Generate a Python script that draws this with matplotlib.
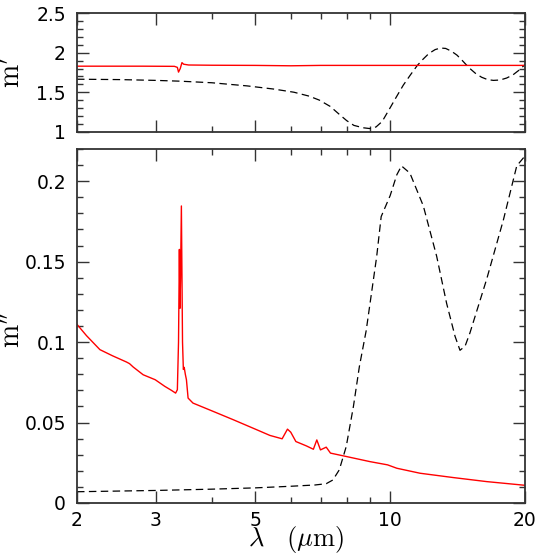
import matplotlib
matplotlib.use("Agg")
import matplotlib.pyplot as plt
from matplotlib.ticker import FixedLocator, NullFormatter, MultipleLocator

plt.rcParams['mathtext.fontset'] = 'cm'
plt.rcParams['font.family'] = 'DejaVu Sans'

# real part m' (top panel)
red_top_x = [2.0, 2.8, 3.3, 3.35, 3.37, 3.40, 3.43, 3.46, 3.55, 4.0, 5.0, 6.0, 7.0, 8.0, 10.0, 14.0, 20.0]
red_top_y = [1.830, 1.830, 1.828, 1.815, 1.755, 1.800, 1.875, 1.855, 1.845, 1.842, 1.840, 1.835, 1.840, 1.840, 1.840, 1.840, 1.840]

blk_top_x = [2.0, 2.5, 3.0, 3.4, 4.0, 4.8, 5.5, 6.1, 6.6, 6.95, 7.35, 7.7, 8.0, 8.3, 8.7, 9.0,
             9.3, 9.6, 9.97, 10.3, 10.7, 11.1, 11.5, 11.85, 12.2, 12.6, 12.95, 13.3, 13.7,
             14.1, 14.5, 15.0, 15.5, 16.0, 16.5, 17.0, 17.6, 18.2, 18.8, 19.4, 20.0]
blk_top_y = [1.665, 1.66, 1.65, 1.64, 1.62, 1.58, 1.54, 1.50, 1.45, 1.40, 1.32, 1.22, 1.14, 1.08, 1.05, 1.04,
             1.06, 1.13, 1.29, 1.43, 1.59, 1.72, 1.84, 1.92, 1.99, 2.04, 2.06, 2.055, 2.02,
             1.97, 1.90, 1.81, 1.74, 1.69, 1.66, 1.65, 1.655, 1.68, 1.72, 1.78, 1.85]

# imaginary part m'' (bottom panel)
red_bot_x = [2.0, 2.1, 2.25, 2.4, 2.58, 2.62, 2.67, 2.81, 2.99, 3.14, 3.25, 3.32, 3.35, 3.37,
             3.385, 3.395, 3.405, 3.42, 3.44, 3.455, 3.47, 3.49, 3.51, 3.54, 3.63, 4.03, 4.47,
             5.04, 5.39, 5.74, 5.90, 6.0, 6.16, 6.5, 6.74, 6.86, 6.99, 7.2, 7.36, 7.86, 9.02,
             9.87, 10.35, 11.66, 13.84, 16.42, 20.0]
red_bot_y = [0.1110, 0.1040, 0.0953, 0.0915, 0.0876, 0.0866, 0.0845, 0.0797, 0.0766, 0.0725, 0.0700, 0.0683, 0.0704, 0.100,
             0.1576, 0.121, 0.140, 0.1846, 0.100, 0.0830, 0.0843, 0.0800, 0.0766, 0.0652, 0.0621, 0.0569, 0.0517,
             0.0455, 0.0420, 0.0399, 0.0459, 0.0440, 0.0382, 0.0355, 0.0334, 0.0392, 0.0330, 0.0347, 0.0310, 0.0293, 0.0257,
             0.0237, 0.0216, 0.0185, 0.0158, 0.0133, 0.0110]

blk_bot_x = [2.0, 3.0, 4.0, 5.0, 6.0, 6.8, 7.2, 7.45, 7.7, 7.98, 8.28, 8.54, 8.84, 9.33, 9.55,
             10.0, 10.35, 10.6, 11.07, 11.86, 12.7, 13.37, 13.96, 14.32, 14.7, 15.07, 16.42,
             17.9, 19.17, 20.0]
blk_bot_y = [0.0070, 0.0078, 0.0086, 0.0094, 0.0104, 0.0112, 0.0120, 0.0143, 0.0206, 0.0351, 0.060, 0.085, 0.107, 0.153, 0.178,
             0.191, 0.204, 0.2095, 0.205, 0.1846, 0.1534, 0.124, 0.1036, 0.0949, 0.0975, 0.1057, 0.139,
             0.176, 0.2095, 0.2157]

x_major = [2, 3, 5, 10, 20]
x_minor = [4, 6, 7, 8, 9]
x_labels = ['2', '3', '5', '10', '20']

fig = plt.figure(figsize=(5.54, 5.54), dpi=100)
ax1 = fig.add_axes([77/554, 1-131.7/554, 448/554, 118.4/554])
ax2 = fig.add_axes([77/554, 1-503/554, 448/554, 354/554])

dash = (0, (6, 3.5))
ax1.plot(blk_top_x, blk_top_y, color='black', lw=0.9, ls=dash)
ax1.plot(red_top_x, red_top_y, color='red', lw=1.0)
ax2.plot(blk_bot_x, blk_bot_y, color='black', lw=0.9, ls=dash)
ax2.plot(red_bot_x, red_bot_y, color='red', lw=1.0)

for ax in (ax1, ax2):
    ax.set_xscale('log')
    ax.set_xlim(2, 20)
    ax.xaxis.set_major_locator(FixedLocator(x_major))
    ax.xaxis.set_minor_locator(FixedLocator(x_minor))
    ax.xaxis.set_minor_formatter(NullFormatter())
    ax.tick_params(which='both', direction='in', top=True, right=True, width=1.0,
                   labelsize=13.5, color='#333333')
    ax.tick_params(which='major', length=8.6)
    ax.tick_params(which='minor', length=4.3)
    ax.tick_params(axis='y', pad=8)
    ax.tick_params(axis='x', pad=6)
    for s in ax.spines.values():
        s.set_linewidth(1.3)
        s.set_color('#333333')

ax1.set_ylim(1, 2.5)
ax1.yaxis.set_major_locator(FixedLocator([1, 1.5, 2, 2.5]))
ax1.yaxis.set_minor_locator(MultipleLocator(0.1))
ax1.set_yticklabels(['1', '1.5', '2', '2.5'])
ax1.xaxis.set_major_formatter(NullFormatter())
ax1.set_ylabel(r"${\rm m}'$", fontsize=20)
ax1.yaxis.set_label_coords(-0.112, 0.5)

ax2.set_ylim(0, 0.22)
ax2.yaxis.set_major_locator(FixedLocator([0, 0.05, 0.1, 0.15, 0.2]))
ax2.yaxis.set_minor_locator(MultipleLocator(0.01))
ax2.set_yticklabels(['0', '0.05', '0.1', '0.15', '0.2'])
ax2.set_xticklabels(x_labels)
ax2.set_ylabel(r"${\rm m}''$", fontsize=20)
ax2.yaxis.set_label_coords(-0.112, 0.49)
ax2.set_xlabel(r"$\lambda\ \ \ (\mu{\rm m})$", fontsize=19)
ax2.xaxis.set_label_coords(0.49, -0.06)

fig.savefig('out.png', dpi=100)
